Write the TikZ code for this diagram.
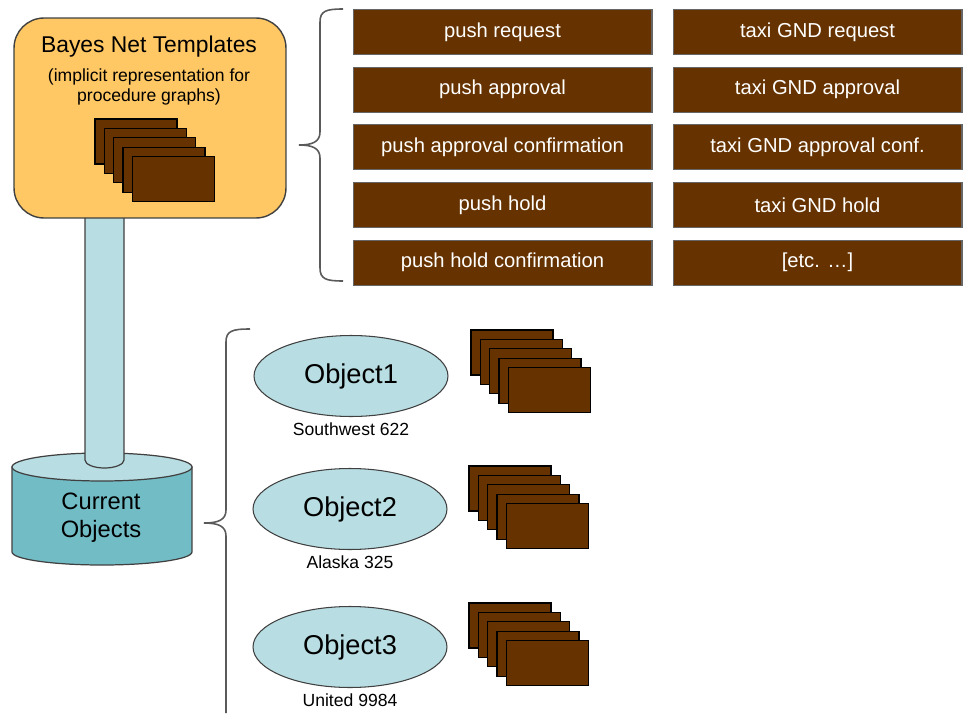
\documentclass[tikz,border=0pt]{standalone}
\usepackage{fontspec}
\setmainfont{Liberation Sans}
\usetikzlibrary{positioning,shapes.geometric}

\definecolor{tplorange}{HTML}{FFC864}
\definecolor{msgbrown}{HTML}{663300}
\definecolor{objcyan}{HTML}{B8DDE2}
\definecolor{dbteal}{HTML}{72BCC6}
\definecolor{bracegray}{HTML}{5A5A5A}

% a pile of five procedure graphs, #1,#2 = top left of the back card
\newcommand{\cardstack}[2]{%
  \foreach \k in {0,...,4}
    \draw[card,shift={(#1+9.3*\k,#2+9.4*\k)}] (0,0) rectangle (82,45);}

\begin{document}
\begin{tikzpicture}[x=0.02cm,y=-0.02cm,
    msg/.style={draw=black!60,line width=0.6pt,fill=msgbrown,text=white,
      minimum width=5.98cm,minimum height=0.9cm,inner sep=0pt,
      font=\fontsize{11.5}{13}\selectfont},
    taxi/.style={msg,minimum width=5.78cm},
    card/.style={draw=black,line width=0.7pt,fill=msgbrown},
    obj/.style={ellipse,draw=black!75,line width=0.6pt,fill=objcyan,
      minimum width=3.88cm,minimum height=1.62cm,inner sep=0pt,
      font=\fontsize{15.5}{17}\selectfont},
    callsign/.style={font=\fontsize{10}{12}\selectfont,inner sep=1pt},
    bracket/.style={bracegray,line width=0.9pt}]
  \useasboundingbox (0,0) rectangle (963,713);

  % Draw the database of current objects
  \draw[black!75,line width=0.7pt,fill=dbteal] (12,467) -- (12,552)
    arc[start angle=180,end angle=360,x radius=1.8cm,y radius=0.26cm] -- (192,467) -- cycle;
  \draw[black!75,line width=0.7pt,fill=objcyan] (102,467) ellipse [x radius=1.8cm,y radius=0.28cm];
  \node (curobj) [align=center,font=\fontsize{13.5}{16}\selectfont] at (101,518) {Current\\Objects};

  % Draw the pillar and the template box
  \draw[black!75,line width=0.7pt,fill=objcyan] (85,212) -- (85,460)
    arc[start angle=180,end angle=360,x radius=0.39cm,y radius=0.16cm] -- (124,212);
  \node (tpl) [draw=black!75,line width=0.8pt,fill=tplorange,rounded corners=0.6cm,
    minimum width=5.44cm,minimum height=4cm] at (150,118) {};
  \node (tpltitle) [font=\fontsize{13}{15}\selectfont] at (149,47) {Bayes Net Templates};
  \node (tplnote) [below=-1pt of tpltitle,align=center,font=\fontsize{10}{11.4}\selectfont]
    {(implicit representation for\\procedure graphs)};
  \cardstack{95}{119}

  % Draw the push messages
  \node (pushreq) [msg] at (502.5,32) {push request};
  \node (pushappr) [msg,below=0.232cm of pushreq] {push approval};
  \node (pushconf) [msg,below=0.232cm of pushappr] {push approval confirmation};
  \node (pushhold) [msg,below=0.232cm of pushconf] {push hold};
  \node (pushholdconf) [msg,below=0.232cm of pushhold] {push hold confirmation};

  % Draw the taxi messages
  \node (taxireq) [taxi] at (817.5,32) {taxi GND request};
  \node (taxiappr) [taxi,below=0.232cm of taxireq] {taxi GND approval};
  \node (taxiconf) [taxi,below=0.232cm of taxiappr] {taxi GND approval conf.};
  \node (taxihold) [taxi,below=0.232cm of taxiconf] {taxi GND hold};
  \node (taxietc) [taxi,below=0.232cm of taxihold] {[etc. \dots]};

  % Draw the objects with their graphs
  \node (obj1) [obj] at (351,376) {Object1};
  \node (sw) [callsign,below=2pt of obj1] {Southwest 622};
  \cardstack{471}{330}
  \node (obj2) [obj] at (350,509) {Object2};
  \node (as) [callsign,below=2pt of obj2] {Alaska 325};
  \cardstack{469}{466}
  \node (obj3) [obj] at (350,647) {Object3};
  \node (ua) [callsign,below=2pt of obj3] {United 9984};
  \cardstack{469}{603}

  % Draw the braces
  \draw[bracket] (343,9) .. controls (326,9) and (320,11) .. (320,22) -- (320,132)
    .. controls (320,142) and (312,145) .. (299,145)
    .. controls (312,145) and (320,148) .. (320,158) -- (320,268)
    .. controls (320,279) and (326,281) .. (343,281);
  \draw[bracket] (250,329) .. controls (232,329) and (226,331) .. (226,342) -- (226,510)
    .. controls (226,520) and (218,523) .. (204,523)
    .. controls (218,523) and (226,526) .. (226,536) -- (226,713);
\end{tikzpicture}
\end{document}
